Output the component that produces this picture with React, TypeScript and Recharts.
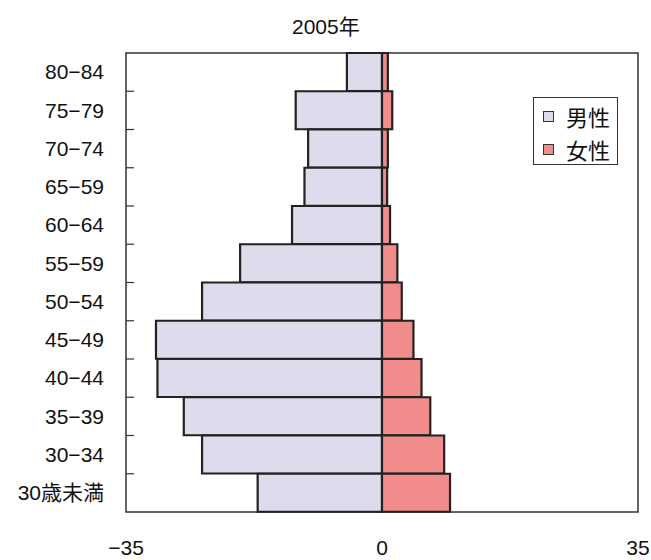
import React from "react";
import {
  BarChart,
  Bar,
  XAxis,
  YAxis,
  ReferenceArea,
} from "recharts";

// age groups, top to bottom
const ageGroups = [
  "80-84",
  "75-79",
  "70-74",
  "65-59",
  "60-64",
  "55-59",
  "50-54",
  "45-49",
  "40-44",
  "35-39",
  "30-34",
  "30歳未満",
];
const maleValues = [-4.8, -11.8, -10.1, -10.6, -12.3, -19.4, -24.6, -30.9, -30.7, -27.1, -24.6, -17.0];
const femaleValues = [0.8, 1.4, 0.8, 0.7, 1.1, 2.1, 2.7, 4.3, 5.4, 6.6, 8.5, 9.3];
const xTicks = [-35, 0, 35];
const legendItems = ["男性", "女性"];

const W = 651;
const H = 560;
const PLOT_LEFT = 126;
const PLOT_TOP = 53;
const PLOT_BOTTOM = 512;
const BAND = (PLOT_BOTTOM - PLOT_TOP) / ageGroups.length;
const FONT = "'Liberation Sans', 'Noto Sans CJK JP', sans-serif";

const MALE_FILL = "#dcdcec";
const FEMALE_FILL = "#f08c89";
const TEXT = "#111";

const chartData = ageGroups.map((name, i) => ({
  name,
  male: maleValues[i],
  female: femaleValues[i],
}));

const AgeTick = (props: any) => {
  const { y, payload, index } = props;
  const label = String(payload.value).replace("-", "−");
  return (
    <g>
      <text x={104} y={y} dy="0.35em" textAnchor="end" fontSize={21} fill={TEXT} fontFamily={FONT}>
        {label}
      </text>
      {index < ageGroups.length - 1 && (
        <line
          x1={PLOT_LEFT}
          x2={PLOT_LEFT + 8}
          y1={y + BAND / 2}
          y2={y + BAND / 2}
          stroke="#333"
          strokeWidth={1.2}
        />
      )}
    </g>
  );
};

const LegendBox = () => (
  <div
    style={{
      position: "absolute",
      left: 533,
      top: 97,
      width: 85,
      height: 68,
      border: "1.5px solid #333",
      background: "#fff",
      boxSizing: "border-box",
      padding: "3px 0 0 9px",
      fontFamily: FONT,
      fontSize: 22,
      color: TEXT,
    }}
  >
    {legendItems.map((label, i) => (
      <div key={label} style={{ display: "flex", alignItems: "center", height: 30, marginBottom: 3 }}>
        <span
          style={{
            display: "inline-block",
            width: 9,
            height: 9,
            border: "1.5px solid #333",
            background: i === 0 ? MALE_FILL : FEMALE_FILL,
            marginRight: 12,
          }}
        />
        {label}
      </div>
    ))}
  </div>
);

export default function App() {
  return (
    <div style={{ position: "absolute", left: 0, top: 0, width: W, height: H, background: "#fff" }}>
      <BarChart
        width={W}
        height={H}
        data={chartData}
        layout="vertical"
        stackOffset="sign"
        barCategoryGap={0}
        margin={{ top: PLOT_TOP, right: 13, left: 0, bottom: 0 }}
      >
        <XAxis
          type="number"
          domain={[-35, 35]}
          ticks={xTicks}
          height={H - PLOT_BOTTOM}
          axisLine={false}
          tickLine={false}
          tickSize={0}
          tickMargin={28}
          tick={{ fontSize: 21, fill: TEXT, fontFamily: FONT }}
          tickFormatter={(v) => String(v).replace("-", "−")}
        />
        <YAxis
          type="category"
          dataKey="name"
          width={PLOT_LEFT}
          axisLine={false}
          tickLine={false}
          interval={0}
          tick={<AgeTick />}
        />
        <Bar
          dataKey="male"
          stackId="pop"
          fill={MALE_FILL}
          stroke="#222"
          strokeWidth={2.2}
          isAnimationActive={false}
        />
        <Bar
          dataKey="female"
          stackId="pop"
          fill={FEMALE_FILL}
          stroke="#222"
          strokeWidth={2.2}
          isAnimationActive={false}
        />
        <ReferenceArea
          x1={-35}
          x2={35}
          fill="none"
          stroke="#333"
          strokeWidth={1.5}
          ifOverflow="visible"
        />
      </BarChart>
      <div
        style={{
          position: "absolute",
          left: 292,
          top: 10,
          fontFamily: FONT,
          fontSize: 21,
          color: TEXT,
        }}
      >
        2005年
      </div>
      <LegendBox />
    </div>
  );
}
